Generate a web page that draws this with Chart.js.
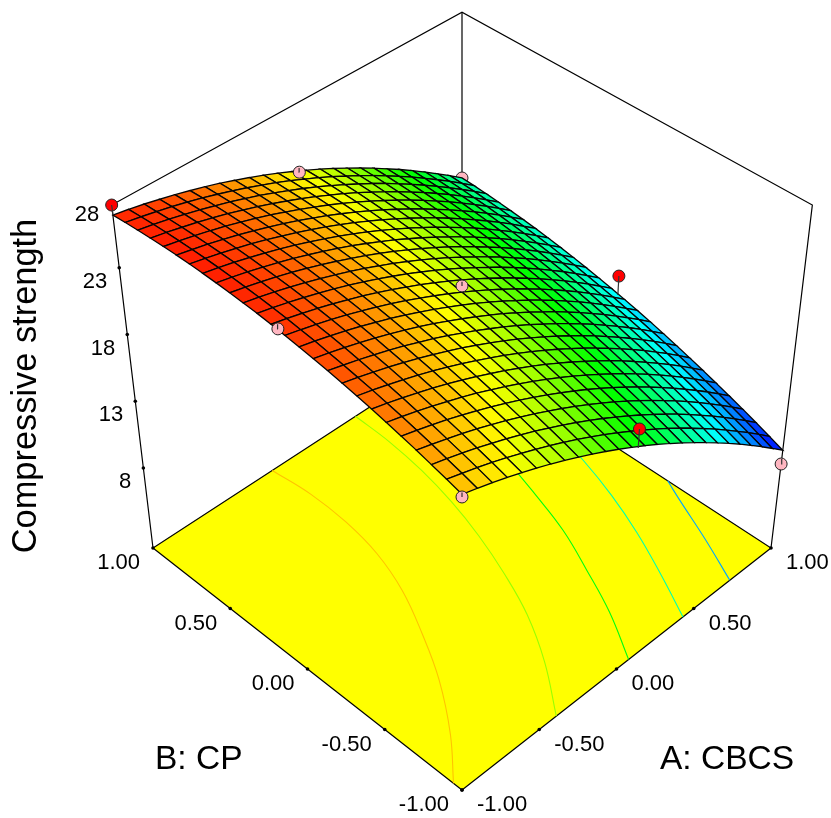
<!DOCTYPE html>
<html>
<head>
<meta charset="utf-8">
<title>Compressive strength</title>
<script src="https://cdn.jsdelivr.net/npm/chart.js@4"></script>
<style>
  html, body { margin: 0; background: #fff; }
  canvas { display: block; }
</style>
</head>
<body>
<canvas id="surfaceChart" width="831" height="818"></canvas>
<script>
// Factor levels of the mesh
let gridA = [-1, -0.92, -0.84, -0.76, -0.68, -0.6, -0.52, -0.44, -0.36, -0.28, -0.2, -0.12, -0.04, 0.04, 0.12, 0.2, 0.28, 0.36, 0.44, 0.52, 0.6, 0.68, 0.76, 0.84, 0.92, 1]
let gridB = [-1, -0.92, -0.84, -0.76, -0.68, -0.6, -0.52, -0.44, -0.36, -0.28, -0.2, -0.12, -0.04, 0.04, 0.12, 0.2, 0.28, 0.36, 0.44, 0.52, 0.6, 0.68, 0.76, 0.84, 0.92, 1]

// Compressive strength, one row per gridB value, one column per gridA value
let strengthRows = [
  [24.33, 24.02, 23.69, 23.34, 22.96, 22.57, 22.15, 21.71, 21.24, 20.76, 20.25, 19.72, 19.17, 18.60, 18.00, 17.38, 16.74, 16.08, 15.40, 14.69, 13.97, 13.22, 12.44, 11.65, 10.83, 10.00],
  [24.63, 24.32, 24.00, 23.65, 23.28, 22.88, 22.47, 22.03, 21.58, 21.10, 20.59, 20.07, 19.52, 18.95, 18.36, 17.75, 17.12, 16.46, 15.78, 15.08, 14.36, 13.61, 12.84, 12.06, 11.24, 10.41],
  [24.90, 24.60, 24.28, 23.94, 23.57, 23.19, 22.78, 22.35, 21.89, 21.42, 20.92, 20.40, 19.86, 19.29, 18.71, 18.10, 17.47, 16.82, 16.15, 15.45, 14.73, 13.99, 13.23, 12.44, 11.64, 10.81],
  [25.17, 24.87, 24.55, 24.22, 23.86, 23.47, 23.07, 22.64, 22.19, 21.72, 21.23, 20.71, 20.18, 19.62, 19.04, 18.44, 17.81, 17.16, 16.49, 15.80, 15.09, 14.35, 13.60, 12.82, 12.02, 11.19],
  [25.41, 25.12, 24.81, 24.48, 24.12, 23.74, 23.34, 22.92, 22.48, 22.01, 21.52, 21.01, 20.48, 19.93, 19.35, 18.75, 18.13, 17.49, 16.83, 16.14, 15.43, 14.70, 13.95, 13.18, 12.38, 11.56],
  [25.64, 25.36, 25.05, 24.72, 24.37, 24.00, 23.61, 23.19, 22.75, 22.29, 21.81, 21.30, 20.77, 20.22, 19.65, 19.06, 18.44, 17.81, 17.15, 16.47, 15.76, 15.04, 14.29, 13.52, 12.73, 11.91],
  [25.86, 25.58, 25.28, 24.95, 24.61, 24.24, 23.85, 23.44, 23.00, 22.55, 22.07, 21.57, 21.05, 20.50, 19.94, 19.35, 18.74, 18.11, 17.45, 16.77, 16.07, 15.35, 14.61, 13.85, 13.06, 12.25],
  [26.06, 25.79, 25.49, 25.17, 24.83, 24.47, 24.08, 23.67, 23.24, 22.79, 22.32, 21.82, 21.31, 20.77, 20.21, 19.62, 19.02, 18.39, 17.74, 17.07, 16.37, 15.66, 14.92, 14.16, 13.38, 12.57],
  [26.25, 25.98, 25.68, 25.37, 25.03, 24.67, 24.29, 23.89, 23.47, 23.02, 22.55, 22.06, 21.55, 21.01, 20.46, 19.88, 19.28, 18.66, 18.01, 17.34, 16.65, 15.94, 15.21, 14.46, 13.68, 12.88],
  [26.42, 26.15, 25.86, 25.55, 25.22, 24.87, 24.49, 24.10, 23.68, 23.23, 22.77, 22.28, 21.78, 21.25, 20.70, 20.12, 19.53, 18.91, 18.27, 17.61, 16.92, 16.22, 15.49, 14.74, 13.96, 13.17],
  [26.57, 26.31, 26.03, 25.72, 25.40, 25.05, 24.68, 24.29, 23.87, 23.43, 22.97, 22.49, 21.99, 21.47, 20.92, 20.35, 19.76, 19.15, 18.51, 17.85, 17.17, 16.47, 15.75, 15.00, 14.24, 13.45],
  [26.71, 26.46, 26.18, 25.88, 25.56, 25.21, 24.85, 24.46, 24.05, 23.62, 23.16, 22.69, 22.19, 21.67, 21.13, 20.56, 19.98, 19.37, 18.74, 18.08, 17.41, 16.71, 15.99, 15.25, 14.49, 13.71],
  [26.83, 26.58, 26.31, 26.02, 25.70, 25.36, 25.00, 24.62, 24.21, 23.78, 23.33, 22.86, 22.37, 21.85, 21.32, 20.76, 20.18, 19.57, 18.95, 18.30, 17.63, 16.94, 16.22, 15.49, 14.73, 13.95],
  [26.94, 26.70, 26.43, 26.14, 25.83, 25.49, 25.14, 24.76, 24.36, 23.93, 23.49, 23.02, 22.54, 22.02, 21.49, 20.94, 20.36, 19.76, 19.14, 18.50, 17.83, 17.15, 16.44, 15.71, 14.95, 14.18],
  [27.04, 26.80, 26.53, 26.25, 25.94, 25.61, 25.26, 24.88, 24.49, 24.07, 23.63, 23.17, 22.69, 22.18, 21.65, 21.10, 20.53, 19.94, 19.32, 18.68, 18.02, 17.34, 16.64, 15.91, 15.16, 14.39],
  [27.11, 26.88, 26.62, 26.34, 26.03, 25.71, 25.36, 25.00, 24.60, 24.19, 23.76, 23.30, 22.82, 22.32, 21.80, 21.25, 20.69, 20.10, 19.49, 18.85, 18.20, 17.52, 16.82, 16.10, 15.36, 14.59],
  [27.17, 26.94, 26.69, 26.41, 26.12, 25.80, 25.45, 25.09, 24.70, 24.30, 23.87, 23.41, 22.94, 22.44, 21.93, 21.39, 20.82, 20.24, 19.63, 19.01, 18.36, 17.68, 16.99, 16.27, 15.53, 14.77],
  [27.22, 26.99, 26.75, 26.47, 26.18, 25.87, 25.53, 25.17, 24.79, 24.39, 23.96, 23.51, 23.05, 22.55, 22.04, 21.51, 20.95, 20.37, 19.77, 19.14, 18.50, 17.83, 17.14, 16.43, 15.70, 14.94],
  [27.25, 27.03, 26.79, 26.52, 26.23, 25.92, 25.59, 25.24, 24.86, 24.46, 24.04, 23.60, 23.13, 22.65, 22.14, 21.61, 21.06, 20.48, 19.89, 19.27, 18.63, 17.96, 17.28, 16.57, 15.84, 15.09],
  [27.27, 27.05, 26.81, 26.55, 26.27, 25.96, 25.63, 25.28, 24.91, 24.52, 24.10, 23.67, 23.21, 22.73, 22.22, 21.70, 21.15, 20.58, 19.99, 19.37, 18.74, 18.08, 17.40, 16.70, 15.97, 15.23],
  [27.27, 27.05, 26.82, 26.56, 26.29, 25.98, 25.66, 25.32, 24.95, 24.56, 24.15, 23.72, 23.27, 22.79, 22.29, 21.77, 21.23, 20.66, 20.07, 19.47, 18.83, 18.18, 17.51, 16.81, 16.09, 15.35],
  [27.25, 27.04, 26.81, 26.56, 26.29, 25.99, 25.68, 25.34, 24.97, 24.59, 24.18, 23.76, 23.31, 22.84, 22.34, 21.83, 21.29, 20.73, 20.15, 19.54, 18.92, 18.27, 17.60, 16.91, 16.19, 15.45],
  [27.22, 27.02, 26.79, 26.55, 26.28, 25.99, 25.67, 25.34, 24.98, 24.60, 24.20, 23.78, 23.33, 22.87, 22.38, 21.87, 21.33, 20.78, 20.20, 19.60, 18.98, 18.34, 17.67, 16.98, 16.27, 15.54],
  [27.17, 26.98, 26.76, 26.51, 26.25, 25.96, 25.66, 25.33, 24.98, 24.60, 24.20, 23.79, 23.35, 22.88, 22.40, 21.89, 21.37, 20.82, 20.24, 19.65, 19.03, 18.39, 17.73, 17.05, 16.35, 15.62],
  [27.11, 26.92, 26.70, 26.47, 26.21, 25.93, 25.62, 25.30, 24.95, 24.58, 24.19, 23.78, 23.34, 22.89, 22.41, 21.90, 21.38, 20.84, 20.27, 19.68, 19.07, 18.43, 17.78, 17.10, 16.40, 15.68],
  [27.03, 26.85, 26.64, 26.40, 26.15, 25.87, 25.58, 25.26, 24.91, 24.55, 24.16, 23.75, 23.32, 22.87, 22.40, 21.90, 21.38, 20.84, 20.28, 19.69, 19.09, 18.46, 17.81, 17.13, 16.44, 15.72],
]

// Design points, actual value and value on the surface under or over it
let designA = [-1, 0, 1, -1, 0, 1, 0, 1, -1]
let designB = [1, 1, 1, 0, 0, 0, -1, -1, -1]
let designActual = [27.7, 23.0, 15.71, 26.95, 22.2, 15.42, 20.13, 8.91, 24.15]
let designFitted = [27.03, 23.3, 15.72, 27.25, 22.5, 13.98, 18.78, 9.3, 24.45]
let designAbove = [true, false, false, false, false, true, true, false, false]

// Contour lines on the floor: level and A, B along each line
let contourLevels = [24.3, 21.5, 18.6, 15.8, 12.9]
let contourA = [
  [-1, -0.82, -0.64, -0.5, -0.38, -0.3, -0.26, -0.25, -0.27],
  [-0.43, -0.24, -0.09, 0.02, 0.11, 0.18, 0.23, 0.26, 0.27],
  [0.03, 0.18, 0.3, 0.41, 0.49, 0.56, 0.61],
  [0.39, 0.52, 0.64, 0.74, 0.82, 0.88],
  [0.71, 0.83, 0.94, 1],
]
let contourB = [
  [-0.95, -0.75, -0.5, -0.25, 0, 0.25, 0.5, 0.75, 1],
  [-1, -0.75, -0.5, -0.25, 0, 0.25, 0.5, 0.75, 1],
  [-1, -0.75, -0.5, -0.25, 0, 0.25, 0.5],
  [-1, -0.75, -0.5, -0.25, 0, 0.25],
  [-1, -0.75, -0.5, -0.37],
]

// Axis ticks
let factorTicks = [-1, -0.5, 0, 0.5, 1]
let factorLabels = ['-1.00', '-0.50', '0.00', '0.50', '1.00']
let strengthTicks = [8, 13, 18, 23]
let strengthLabels = ['8', '13', '18', '23', '28']

let strengthMin = 2
let strengthMax = 27.7
let colorLow = 10
let colorHigh = 27.7

// Perspective view of the box, A and B from -1 to 1, height from 0 to 1
function project(a, b, strength) {
  let z = (strength - strengthMin) / (strengthMax - strengthMin)
  let s = a + b
  let w = 1 + 0.0463 * s - 0.118 * z
  return {
    x: 462 + (154.5 * (a - b)) / w,
    y: 548 + (-109.8 * s - 302.5 * z) / w,
  }
}

// The tick marks of the original sit evenly along each edge
function alongEdge(p, q, t) {
  return { x: p.x + (q.x - p.x) * t, y: p.y + (q.y - p.y) * t }
}

// Blue, cyan, green, yellow, red
function rainbow(value) {
  let t = Math.min(1, Math.max(0, (value - colorLow) / (colorHigh - colorLow))) * 4
  let r = 0
  let g = 0
  let b = 0
  if (t < 1) {
    g = t
    b = 1
  } else if (t < 2) {
    g = 1
    b = 2 - t
  } else if (t < 3) {
    r = t - 2
    g = 1
  } else {
    r = 1
    g = 4 - t
  }
  return 'rgb(' + Math.round(r * 255) + ',' + Math.round(g * 255) + ',' + Math.round(b * 255) + ')'
}

function lineSet(points, color, width, extra) {
  return Object.assign(
    { data: points, showLine: true, borderColor: color, borderWidth: width, pointRadius: 0, fill: false },
    extra
  )
}

function markerSet(index) {
  let above = designAbove[index]
  return {
    data: [project(designA[index], designB[index], designActual[index])],
    showLine: false,
    pointRadius: 6,
    pointBackgroundColor: above ? '#ff0000' : '#ffb6c1',
    pointBorderColor: '#222222',
    pointBorderWidth: 1,
  }
}

function stemSet(index) {
  let a = designA[index]
  let b = designB[index]
  return lineSet([project(a, b, designActual[index]), project(a, b, designFitted[index])], '#333333', 1.2)
}

let left = project(-1, 1, strengthMin)
let right = project(1, -1, strengthMin)
let front = project(-1, -1, strengthMin)
let back = project(1, 1, strengthMin)
let leftTop = project(-1, 1, strengthMax)
let rightTop = project(1, -1, strengthMax)
let backTop = project(1, 1, strengthMax)

let paintOrder = []

// Floor and contours
paintOrder.push(lineSet([front, right, back, left, front], '#000000', 1.2, { fill: 'shape', backgroundColor: '#ffff00' }))
for (let c = 0; c < contourLevels.length; c++) {
  let points = contourA[c].map((a, k) => project(a, contourB[c][k], strengthMin))
  paintOrder.push(lineSet(points, rainbow(contourLevels[c]), 1.1, { tension: 0.4 }))
}

// Box edges
paintOrder.push(lineSet([left, leftTop, backTop, rightTop, right], '#000000', 1.2))
paintOrder.push(lineSet([back, backTop], '#000000', 1.2))

// Tick marks
let tickPoints = []
factorTicks.forEach((v) => {
  let t = (v + 1) / 2
  tickPoints.push(alongEdge(front, left, t))
  tickPoints.push(alongEdge(front, right, t))
})
strengthTicks.forEach((v) => {
  tickPoints.push(alongEdge(left, leftTop, (v - strengthMin) / (strengthMax - strengthMin)))
})
paintOrder.push({ data: tickPoints, showLine: false, pointRadius: 1.8, pointBackgroundColor: '#000000', pointBorderWidth: 0 })

// Points hidden behind the surface go first
designA.forEach((a, i) => {
  if (a === 1 && designB[i] === 1) paintOrder.push(markerSet(i))
})

// Surface, far cells first
for (let j = gridB.length - 2; j >= 0; j--) {
  for (let i = gridA.length - 2; i >= 0; i--) {
    let mean = (strengthRows[j][i] + strengthRows[j][i + 1] + strengthRows[j + 1][i] + strengthRows[j + 1][i + 1]) / 4
    let cell = [
      project(gridA[i], gridB[j], strengthRows[j][i]),
      project(gridA[i + 1], gridB[j], strengthRows[j][i + 1]),
      project(gridA[i + 1], gridB[j + 1], strengthRows[j + 1][i + 1]),
      project(gridA[i], gridB[j + 1], strengthRows[j + 1][i]),
    ]
    cell.push(cell[0])
    paintOrder.push(lineSet(cell, '#050505', 1.3, { fill: 'shape', backgroundColor: rainbow(mean) }))
  }
}

// Remaining design points
designA.forEach((a, i) => {
  if (a === 1 && designB[i] === 1) return
  paintOrder.push(markerSet(i))
  paintOrder.push(stemSet(i))
})

// Text on top of everything
let chartText = {
  id: 'chartText',
  afterDraw(chart) {
    let ctx = chart.ctx
    let sx = chart.scales.x
    let sy = chart.scales.y
    function put(text, p, dx, dy, align) {
      ctx.textAlign = align
      ctx.fillText(text, sx.getPixelForValue(p.x) + dx, sy.getPixelForValue(p.y) + dy)
    }
    ctx.save()
    ctx.fillStyle = '#000000'
    ctx.textBaseline = 'middle'
    ctx.font = '22px "Liberation Sans", Arial, sans-serif'
    factorTicks.forEach((v, k) => {
      let t = (v + 1) / 2
      put(factorLabels[k], alongEdge(front, left, t), -13, 15, 'right')
      put(factorLabels[k], alongEdge(front, right, t), 15, 15, 'left')
    })
    strengthLabels.forEach((label) => {
      put(label, alongEdge(left, leftTop, (Number(label) - strengthMin) / (strengthMax - strengthMin)), -12, 14, 'right')
    })
    ctx.font = '33.5px "Liberation Sans", Arial, sans-serif'
    ctx.textAlign = 'left'
    ctx.fillText('B: CP', 155, 760)
    ctx.fillText('A: CBCS', 660, 760)
    ctx.translate(27, 386)
    ctx.rotate(-Math.PI / 2)
    ctx.textAlign = 'center'
    ctx.font = '34.4px "Liberation Sans", Arial, sans-serif'
    ctx.fillText('Compressive strength', 0, 0)
    ctx.restore()
  },
}

new Chart(document.getElementById('surfaceChart'), {
  type: 'scatter',
  data: { datasets: paintOrder.slice().reverse() },
  plugins: [chartText],
  options: {
    responsive: false,
    animation: false,
    events: [],
    layout: { padding: 0, autoPadding: false },
    plugins: { legend: { display: false }, tooltip: { enabled: false }, filler: { propagate: false } },
    scales: {
      x: { type: 'linear', min: 0, max: 831, display: false },
      y: { type: 'linear', min: 0, max: 818, reverse: true, display: false },
    },
  },
})
</script>
</body>
</html>
